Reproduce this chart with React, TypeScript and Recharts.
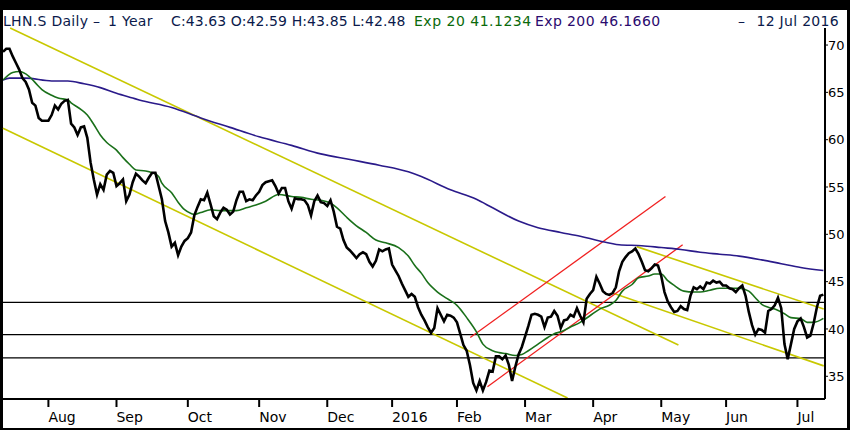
import { ComposedChart, Line, ReferenceLine, XAxis, YAxis } from "recharts";

// daily closes, one per trading day (Jul 2015 - 12 Jul 2016)
const closes = [
  69.3, 69.6, 69.6, 68.8, 68.1, 67.4, 66.5, 66.1, 65.3, 63.9,
  63.6, 62.3, 62.0, 62.0, 62.0, 62.6, 63.6, 63.2, 63.8, 64.1,
  64.2, 61.7, 61.3, 60.5, 61.3, 61.4, 60.2, 57.6, 55.8, 54.2,
  55.3, 54.7, 56.3, 56.7, 56.5, 55.1, 55.4, 55.8, 53.5, 54.2,
  55.5, 56.4, 56.1, 55.7, 55.4, 56.0, 56.5, 56.5, 55.1, 53.7,
  51.4, 50.2, 48.7, 49.1, 47.8, 48.7, 49.3, 49.6, 50.2, 52.0,
  52.9, 53.7, 53.6, 54.4, 53.2, 51.9, 51.6, 52.3, 52.8, 52.6,
  52.1, 52.4, 53.6, 54.5, 54.5, 53.5, 53.7, 53.6, 54.1, 54.5,
  55.2, 55.5, 55.6, 55.7, 55.1, 54.3, 54.9, 54.9, 53.5, 52.7,
  53.8, 53.7, 53.7, 53.6, 53.1, 52.0, 53.5, 54.1, 53.4, 53.3,
  53.0, 53.6, 52.4, 50.8, 50.6, 49.4, 48.6, 48.3, 47.9, 47.5,
  47.9, 48.1, 47.9, 47.1, 46.6, 47.2, 48.4, 48.2, 48.4, 48.5,
  46.8, 46.2, 45.6, 44.8, 44.1, 43.4, 43.7, 43.4, 42.3, 41.5,
  40.9, 40.2, 39.6, 40.1, 42.2, 41.5, 40.8, 41.5, 41.4, 41.2,
  40.7, 39.5, 38.3, 37.7, 36.2, 34.3, 33.5, 34.5, 33.5, 34.4,
  35.6, 35.5, 37.1, 37.1, 36.8, 37.2, 36.2, 34.5, 36.0, 37.3,
  38.1, 39.2, 40.3, 41.5, 41.6, 41.5, 41.3, 40.2, 41.2, 41.3,
  41.9, 41.4, 40.1, 40.9, 41.0, 41.5, 41.3, 42.2, 41.4, 40.7,
  43.2, 43.7, 44.1, 45.5, 44.8, 44.0, 43.7, 43.6, 43.8, 44.4,
  46.1, 47.1, 47.6, 48.0, 48.2, 48.5, 47.9, 47.1, 46.2, 46.1,
  46.4, 46.8, 46.7, 45.6, 43.9, 42.9, 42.3, 41.8, 41.9, 42.4,
  42.1, 42.0, 43.5, 44.4, 44.2, 44.5, 44.2, 44.9, 44.8, 45.1,
  44.9, 45.0, 44.6, 44.6, 44.3, 44.2, 43.9, 44.3, 44.6, 43.5,
  41.8, 40.4, 39.4, 40.0, 39.9, 39.6, 41.9, 42.1, 42.5, 43.3,
  42.2, 38.4, 36.8, 38.4, 40.0, 40.8, 41.1, 40.2, 39.1, 39.3,
  40.6, 42.3, 43.5, 43.63,
];

// Exp 20 read at sampled trading days
const ema20Idx = [
  0, 3, 5, 8, 10, 12, 15, 17, 20, 21, 24, 26, 28, 30, 32, 35, 37, 39, 41, 44,
  46, 48, 49, 52, 54, 56, 58, 59, 61, 64, 67, 70, 72, 75, 78, 81, 85, 89, 92, 95,
  98, 101, 103, 106, 109, 112, 115, 118, 122, 125, 127, 129, 131, 134, 137, 140, 143, 146, 148, 151,
  153, 155, 158, 160, 162, 165, 168, 170, 172, 175, 178, 181, 184, 187, 189, 191, 194, 196, 199, 201,
  203, 205, 207, 210, 213, 215, 218, 221, 224, 227, 230, 232, 234, 236, 238, 241, 243, 246, 248, 250,
  253,
];
const ema20Val = [
  66.3, 67.1, 67.2, 66.7, 66.0, 65.3, 64.7, 64.4, 64.2, 63.9, 63.2, 62.6, 61.6, 60.5, 59.7, 58.9, 58.1, 57.4, 56.8, 56.7,
  56.5, 56.1, 55.4, 54.4, 53.4, 52.6, 52.2, 52.1, 52.3, 52.6, 52.5, 52.5, 52.5, 52.8, 53.1, 53.5, 54.2, 54.0, 53.9, 53.7,
  53.6, 53.3, 52.8, 51.8, 50.9, 50.2, 49.4, 49.1, 48.6, 47.7, 46.7, 45.9, 44.9, 43.9, 43.2, 42.5, 41.2, 39.7, 38.4, 37.7,
  37.5, 37.4, 37.2, 37.3, 37.7, 38.4, 39.1, 39.5, 39.7, 40.2, 40.7, 41.4, 42.1, 42.5, 43.0, 44.0, 44.7, 45.4, 45.6, 45.8,
  45.8, 45.1, 44.6, 44.0, 43.9, 43.9, 44.1, 44.3, 44.3, 44.3, 44.0, 43.3, 42.6, 42.3, 42.1, 41.6, 41.2, 41.1, 40.7, 40.7,
  41.12,
];

// Exp 200 read at sampled trading days
const ema200Idx = [
  0, 2, 7, 15, 20, 25, 30, 35, 40, 42, 52, 61, 70, 79, 89, 98, 107, 116, 125, 129,
  138, 146, 151, 159, 165, 172, 178, 184, 190, 197, 203, 209, 215, 221, 227, 234, 240, 246, 253,
];
const ema200Val = [
  66.3, 66.5, 66.5, 66.2, 66.2, 65.9, 65.5, 64.9, 64.4, 64.2, 63.4, 62.3, 61.3, 60.3, 59.4, 58.5, 57.9, 57.3, 56.6, 56.1,
  54.7, 53.7, 52.8, 51.4, 50.7, 50.2, 49.8, 49.3, 48.9, 48.8, 48.6, 48.4, 48.1, 47.9, 47.7, 47.3, 46.9, 46.5, 46.17,
];

const monthLabels = ["Aug", "Sep", "Oct", "Nov", "Dec", "2016", "Feb", "Mar", "Apr", "May", "Jun", "Jul"];
const monthIdx = [14, 35, 57, 79, 100, 120, 140, 161, 182, 203, 223, 245];
const yTicks = [35, 40, 45, 50, 55, 60, 65, 70];

// horizontal support / resistance levels
const levels = [42.8, 39.4, 36.95];
// trend lines: [x1, y1, x2, y2] in (trading day, price)
const yellowLines = [
  [2.2, 71.8, 208.3, 38.3],
  [0, 61.2, 174.1, 32.7],
  [195.4, 48.7, 253.1, 42.1],
  [188, 43.8, 253.1, 36.1],
];
const redLines = [
  [144.1, 39.1, 204.3, 54.0],
  [149.4, 33.9, 209.6, 48.9],
];

const priceData = closes.map((c, i) => ({ i, close: c }));
const ema20Data = ema20Idx.map((i, k) => ({ i, v: ema20Val[k] }));
const ema200Data = ema200Idx.map((i, k) => ({ i, v: ema200Val[k] }));

const font = "'DejaVu Sans', Verdana, sans-serif";
const navy = "#0b1a4b";

const MonthTick = (props: any) => {
  const { x, y, payload } = props;
  const label = monthLabels[monthIdx.indexOf(payload.value)];
  return (
    <text x={x} y={y} dy="0.71em" textAnchor="start" fill="#000" fontSize={14} fontFamily={font}>
      {label}
    </text>
  );
};

const App = () => {
  return (
    <div style={{ position: "absolute", left: 0, top: 0, width: 850, height: 430, background: "#000", fontFamily: font }}>
      <div style={{ position: "absolute", left: 3, top: 10, width: 844, height: 418, background: "#fff" }} />
      <div style={{ position: "absolute", top: 12.5, left: 0, width: 850, height: 16, fontSize: 14, lineHeight: "16px", whiteSpace: "nowrap", letterSpacing: 0.3 }}>
        <span style={{ position: "absolute", left: 3, color: navy }}>LHN.S Daily –</span>
        <span style={{ position: "absolute", left: 108, color: navy }}>1 Year</span>
        <span style={{ position: "absolute", left: 171, color: navy, letterSpacing: 0.1 }}>C:43.63 O:42.59 H:43.85 L:42.48</span>
        <span style={{ position: "absolute", left: 414, color: "#0a6a0a", letterSpacing: 0.5 }}>Exp 20 41.1234</span>
        <span style={{ position: "absolute", left: 535, color: "#2a0a6e", letterSpacing: 0.4 }}>Exp 200 46.1660</span>
        <span style={{ position: "absolute", left: 738, color: navy }}>–</span>
        <span style={{ position: "absolute", right: 11, color: navy }}>12 Jul 2016</span>
      </div>
      <div style={{ position: "absolute", left: 0, top: 0 }}>
        <ComposedChart width={850} height={430} data={priceData} margin={{ top: 28, right: 0, bottom: 0, left: 3 }}>
          <XAxis
            dataKey="i"
            type="number"
            domain={[0, 253.5]}
            ticks={monthIdx}
            tick={<MonthTick />}
            height={31}
            tickSize={8}
            tickMargin={5}
            axisLine={{ stroke: "#000", strokeWidth: 2 }}
            tickLine={{ stroke: "#000", strokeWidth: 2 }}
            interval={0}
            allowDataOverflow
          />
          <YAxis
            orientation="right"
            type="number"
            domain={[32.6, 71.8]}
            ticks={yTicks}
            width={25}
            tickSize={3}
            tickMargin={0}
            interval={0}
            axisLine={{ stroke: "#000", strokeWidth: 2 }}
            tickLine={{ stroke: "#000" }}
            tick={{ fill: "#000", fontSize: 13, fontFamily: font }}
            allowDataOverflow
          />
          {levels.map((v) => (
            <ReferenceLine key={v} y={v} stroke="#000" strokeWidth={1.3} />
          ))}
          {yellowLines.map((s, k) => (
            <ReferenceLine
              key={"y" + k}
              segment={[{ x: s[0], y: s[1] }, { x: s[2], y: s[3] }]}
              stroke="#c8c800"
              strokeWidth={1.6}
              ifOverflow="visible"
            />
          ))}
          {redLines.map((s, k) => (
            <ReferenceLine
              key={"r" + k}
              segment={[{ x: s[0], y: s[1] }, { x: s[2], y: s[3] }]}
              stroke="#f02020"
              strokeWidth={1.3}
              ifOverflow="visible"
            />
          ))}
          <Line data={ema200Data} dataKey="v" type="monotone" stroke="#2a1a8a" strokeWidth={1.6} dot={false} isAnimationActive={false} />
          <Line data={ema20Data} dataKey="v" type="monotone" stroke="#1a701a" strokeWidth={1.6} dot={false} isAnimationActive={false} />
          <Line dataKey="close" type="linear" stroke="#000" strokeWidth={2.6} dot={false} isAnimationActive={false} />
        </ComposedChart>
      </div>
    </div>
  );
};

export default App;
